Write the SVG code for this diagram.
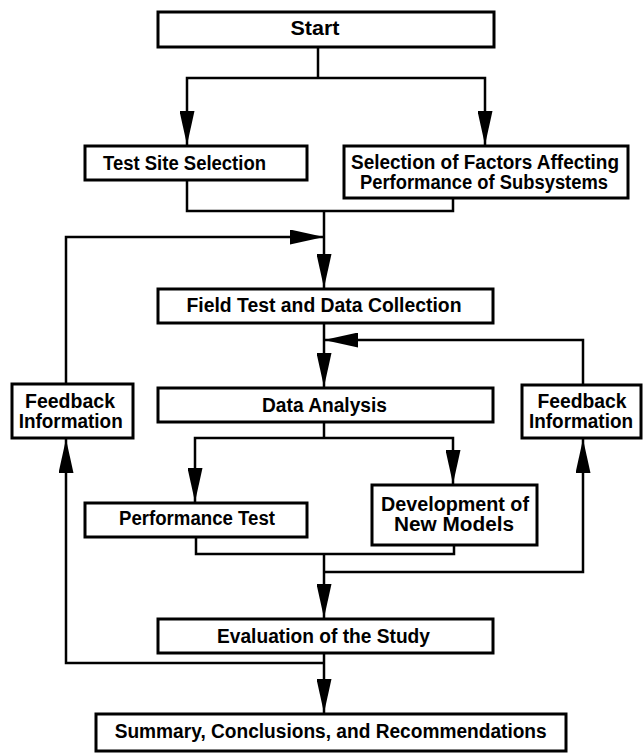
<svg xmlns="http://www.w3.org/2000/svg" width="643" height="753" viewBox="0 0 643 753">
<style>
.box{fill:#fff;stroke:#000;stroke-width:3}
.t{font-family:"Liberation Sans",Arial,sans-serif;font-weight:bold;font-size:20px;text-anchor:middle;fill:#000}
.c{fill:none;stroke:#000;stroke-width:2.5}
</style>
<defs>
<marker id="ah" markerUnits="userSpaceOnUse" markerWidth="34" markerHeight="15" refX="34" refY="7.5" orient="auto">
<path d="M0,0 L34,7.5 L0,15 Z" fill="#000"/>
</marker>
</defs>
<rect width="643" height="753" fill="#fff"/>
<g id="connectors">
<path class="c" d="M318,47 V78"/>
<path class="c" d="M318,78 H187 V145" marker-end="url(#ah)"/>
<path class="c" d="M318,78 H485 V145" marker-end="url(#ah)"/>
<path class="c" d="M187,180 V211 H453 V198"/>
<path class="c" d="M324,211 V288" marker-end="url(#ah)"/>
<path class="c" d="M66,384 V237 H324" marker-end="url(#ah)"/>
<path class="c" d="M324,323 V387" marker-end="url(#ah)"/>
<path class="c" d="M583,385 V340 H324" marker-end="url(#ah)"/>
<path class="c" d="M324,422 V438"/>
<path class="c" d="M324,438 H195 V502" marker-end="url(#ah)"/>
<path class="c" d="M324,438 H453 V484" marker-end="url(#ah)"/>
<path class="c" d="M196,537 V554 H454 V545"/>
<path class="c" d="M324,554 V618" marker-end="url(#ah)"/>
<path class="c" d="M324,572 H583 V439" marker-end="url(#ah)"/>
<path class="c" d="M324,663 H66 V439" marker-end="url(#ah)"/>
<path class="c" d="M324,653 V713" marker-end="url(#ah)"/>
</g>
<g id="start"><rect class="box" x="158" y="12" width="336" height="35"/><text class="t" x="315" y="35" textLength="49" lengthAdjust="spacingAndGlyphs">Start</text></g>
<g id="test-site"><rect class="box" x="85" y="146" width="222" height="34"/><text class="t" x="184.5" y="170" textLength="163" lengthAdjust="spacingAndGlyphs">Test Site Selection</text></g>
<g id="selection-factors"><rect class="box" x="344" y="146" width="284" height="52"/><text class="t" x="485" y="169" textLength="268" lengthAdjust="spacingAndGlyphs">Selection of Factors Affecting</text><text class="t" x="484" y="189" textLength="248" lengthAdjust="spacingAndGlyphs">Performance of Subsystems</text></g>
<g id="field-test"><rect class="box" x="158" y="289" width="335" height="34"/><text class="t" x="324" y="312" textLength="275" lengthAdjust="spacingAndGlyphs">Field Test and Data Collection</text></g>
<g id="data-analysis"><rect class="box" x="158" y="388" width="335" height="34"/><text class="t" x="324.5" y="411.5" textLength="125" lengthAdjust="spacingAndGlyphs">Data Analysis</text></g>
<g id="feedback-left"><rect class="box" x="12" y="384" width="121" height="54"/><text class="t" x="70" y="408" textLength="90" lengthAdjust="spacingAndGlyphs">Feedback</text><text class="t" x="70.7" y="428" textLength="104" lengthAdjust="spacingAndGlyphs">Information</text></g>
<g id="feedback-right"><rect class="box" x="522" y="385" width="119" height="53"/><text class="t" x="582" y="408" textLength="89" lengthAdjust="spacingAndGlyphs">Feedback</text><text class="t" x="581" y="428" textLength="104" lengthAdjust="spacingAndGlyphs">Information</text></g>
<g id="performance-test"><rect class="box" x="85" y="503" width="222" height="34"/><text class="t" x="197" y="525" textLength="156" lengthAdjust="spacingAndGlyphs">Performance Test</text></g>
<g id="new-models"><rect class="box" x="372" y="485" width="165" height="60"/><text class="t" x="455" y="511" textLength="148" lengthAdjust="spacingAndGlyphs">Development of</text><text class="t" x="454" y="531" textLength="120" lengthAdjust="spacingAndGlyphs">New Models</text></g>
<g id="evaluation"><rect class="box" x="158" y="619" width="335" height="34"/><text class="t" x="323.5" y="642.5" textLength="213" lengthAdjust="spacingAndGlyphs">Evaluation of the Study</text></g>
<g id="summary"><rect class="box" x="96" y="714" width="470" height="37"/><text class="t" x="330.7" y="738" textLength="432" lengthAdjust="spacingAndGlyphs">Summary, Conclusions, and Recommendations</text></g>
</svg>
